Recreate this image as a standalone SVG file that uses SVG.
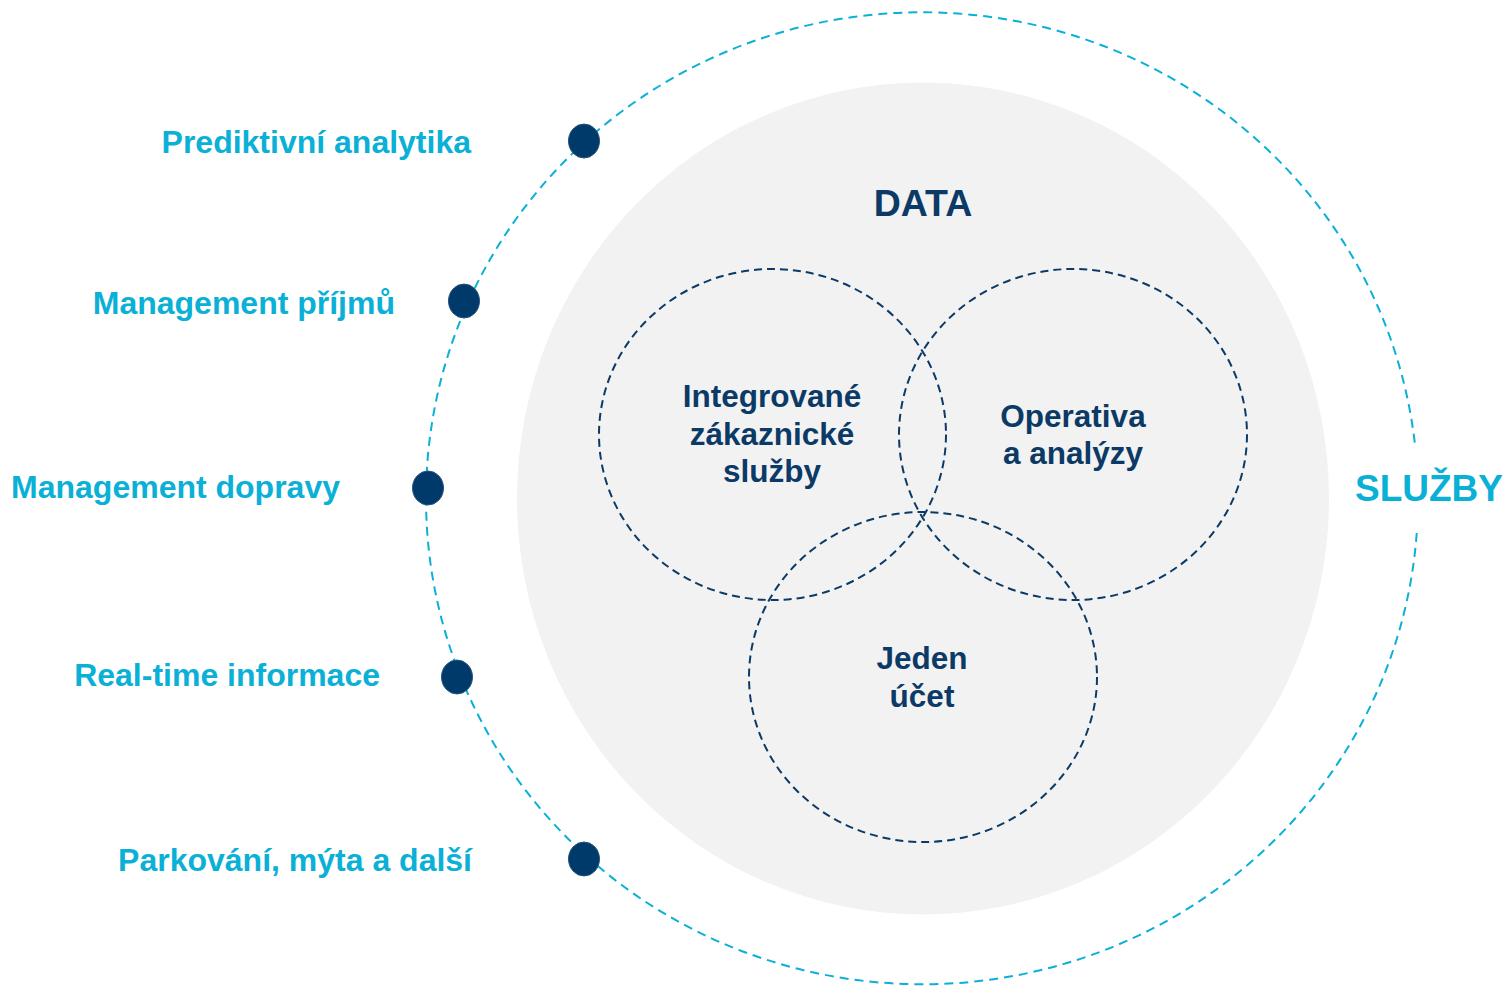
<svg xmlns="http://www.w3.org/2000/svg" width="1506" height="986" viewBox="0 0 1506 986">
<style>
.bg{fill:#ffffff}
.data{fill:#f2f2f2}
.ring{fill:none;stroke:#0bb0d6;stroke-width:2;stroke-dasharray:9 6}
.venn{fill:none;stroke:#0b3a66;stroke-width:2;stroke-dasharray:8 5}
.dot{fill:#003a6a;stroke:#2a547e;stroke-width:1}
.lbl{font-family:"Liberation Sans",Arial,sans-serif;font-weight:bold;font-size:32px;fill:#0bb0d6}
.in{font-family:"Liberation Sans",Arial,sans-serif;font-weight:bold;font-size:31.5px;fill:#0b3a66;text-anchor:middle}
</style>
<rect class="bg" x="0" y="0" width="1506" height="986"/>
<g id="data-area">
<ellipse class="data" cx="923" cy="498.5" rx="406" ry="416"/>
<text class="in" x="923" y="216" style="font-size:37.5px">DATA</text>
</g>
<g id="connectors">
<path class="ring" d="M 1416.75 533 A 496 486 0 1 1 1414.8 443"/>
<ellipse class="venn" cx="772.5" cy="434.5" rx="173.5" ry="165.5"/>
<ellipse class="venn" cx="1073" cy="434.5" rx="174" ry="165.5"/>
<ellipse class="venn" cx="923" cy="677" rx="174" ry="165"/>
</g>
<g id="node-integrovane">
<text class="in" x="772" y="407">Integrované</text>
<text class="in" x="772" y="444.5">zákaznické</text>
<text class="in" x="772" y="482">služby</text>
</g>
<g id="node-operativa">
<text class="in" x="1073" y="427">Operativa</text>
<text class="in" x="1073" y="464">a analýzy</text>
</g>
<g id="node-jeden">
<text class="in" x="922" y="669">Jeden</text>
<text class="in" x="922" y="706.5">účet</text>
</g>
<g id="node-sluzby">
<text class="lbl" x="1355" y="501" style="font-size:37px">SLUŽBY</text>
</g>
<g id="node-prediktivni">
<ellipse class="dot" cx="584" cy="141" rx="15.5" ry="17"/>
<text class="lbl" x="471" y="153" text-anchor="end">Prediktivní analytika</text>
</g>
<g id="node-prijmy">
<ellipse class="dot" cx="464" cy="301" rx="15.5" ry="17"/>
<text class="lbl" x="395" y="314" text-anchor="end">Management příjmů</text>
</g>
<g id="node-doprava">
<ellipse class="dot" cx="428" cy="488" rx="15.5" ry="17"/>
<text class="lbl" x="340" y="498" text-anchor="end">Management dopravy</text>
</g>
<g id="node-realtime">
<ellipse class="dot" cx="457" cy="677" rx="15.5" ry="17"/>
<text class="lbl" x="380" y="686" text-anchor="end">Real-time informace</text>
</g>
<g id="node-parkovani">
<ellipse class="dot" cx="584" cy="859" rx="15.5" ry="17"/>
<text class="lbl" x="472" y="871" text-anchor="end">Parkování, mýta a další</text>
</g>
</svg>
